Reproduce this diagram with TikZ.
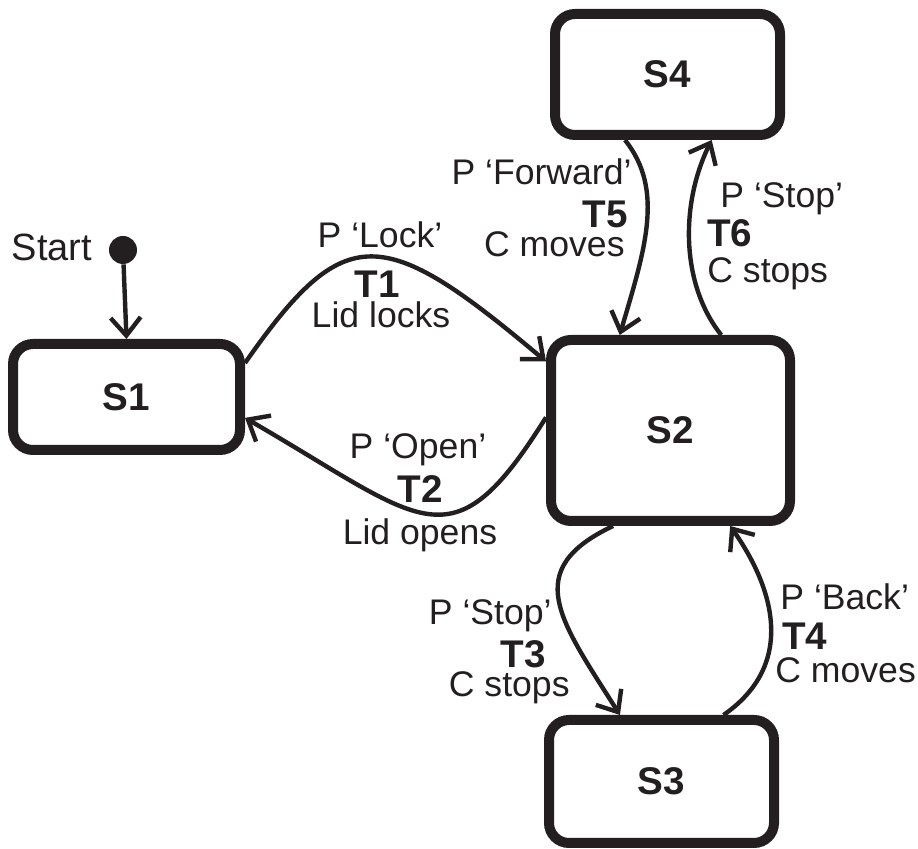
\documentclass[tikz,border=0pt]{standalone}
\usepackage{fontspec}
\setmainfont{Liberation Sans}
\usetikzlibrary{arrows.meta}
\definecolor{ink}{RGB}{35,31,32}

\begin{document}
\begin{tikzpicture}[x=0.5pt,y=-0.5pt,
	state/.style={draw=ink,line width=5pt,rounded corners=10pt,inner sep=0,text=ink,font=\fontsize{19.3}{22}\selectfont\bfseries},
	trans/.style={draw=ink,line width=2.2pt,-{Straight Barb[length=9pt,width=15pt]}},
	lbl/.style={inner sep=0,text=ink,font=\fontsize{17.8}{20}\selectfont},
	tname/.style={inner sep=0,text=ink,font=\fontsize{19.3}{22}\selectfont\bfseries}]
	\useasboundingbox (0,0) rectangle (918,849);
	% states
	\node[state,minimum width=113.5pt,minimum height=53pt] (S1) at (126.5,397) {S1};
	\node[state,minimum width=119.5pt,minimum height=90.5pt] (S2) at (670.5,430.5) {S2};
	\node[state,minimum width=112.5pt,minimum height=61.5pt] (S3) at (661.5,781.5) {S3};
	\node[state,minimum width=112.5pt,minimum height=60.5pt] (S4) at (667.5,74.5) {S4};
	\node[circle,fill=ink,inner sep=0,minimum size=14pt] (start) at (123,250) {};
	\node[lbl,font=\fontsize{19}{22}\selectfont,anchor=base] (starttxt) at (52,261) {Start};
	% transitions
	\draw[trans] (start) -- (S1.north);
	\draw[trans] (S1.16) .. controls +(100,-143) and +(-164,-138) .. (S2.151);
	\draw[trans] (S2.174) .. controls +(-95,152) and +(180,104) .. (S1.-10);
	\draw[trans] (S2.239) .. controls +(-93,44) and +(-60,-95) .. (S3.122);
	\draw[trans] (S3.47) .. controls +(72,-50) and +(45,64) .. (S2.-58);
	\draw[trans] (S4.237) .. controls +(40,50) and +(25,-85) .. (S2.118);
	\draw[trans] (S2.62) .. controls +(-40,-50) and +(-32,65) .. (S4.-56);
	% labels
	\node[lbl,anchor=base] (ev1) at (380,248) {P ‘Lock’};
	\node[tname,anchor=base] (T1) at (377,298) {T1};
	\node[lbl,anchor=base] (act1) at (381,328) {Lid locks};
	\node[lbl,anchor=base] (ev2) at (418,459) {P ‘Open’};
	\node[tname,anchor=base] (T2) at (420,503) {T2};
	\node[lbl,anchor=base] (act2) at (420,545) {Lid opens};
	\node[lbl,anchor=base east] (ev3) at (552,625) {P ‘Stop’};
	\node[tname,anchor=base east] (T3) at (546,668) {T3};
	\node[lbl,anchor=base east] (act3) at (570,697) {C stops};
	\node[lbl,anchor=base west] (ev4) at (780,610) {P ‘Back’};
	\node[tname,anchor=base west] (T4) at (782,650) {T4};
	\node[lbl,anchor=base west] (act4) at (775,683) {C moves};
	\node[lbl,anchor=base east] (ev5) at (632,185) {P ‘Forward’};
	\node[tname,anchor=base east] (T5) at (628,228) {T5};
	\node[lbl,anchor=base east] (act5) at (625,257) {C moves};
	\node[lbl,anchor=base west] (ev6) at (720,208) {P ‘Stop’};
	\node[tname,anchor=base west] (T6) at (707,247) {T6};
	\node[lbl,anchor=base west] (act6) at (707,283) {C stops};
\end{tikzpicture}
\end{document}
